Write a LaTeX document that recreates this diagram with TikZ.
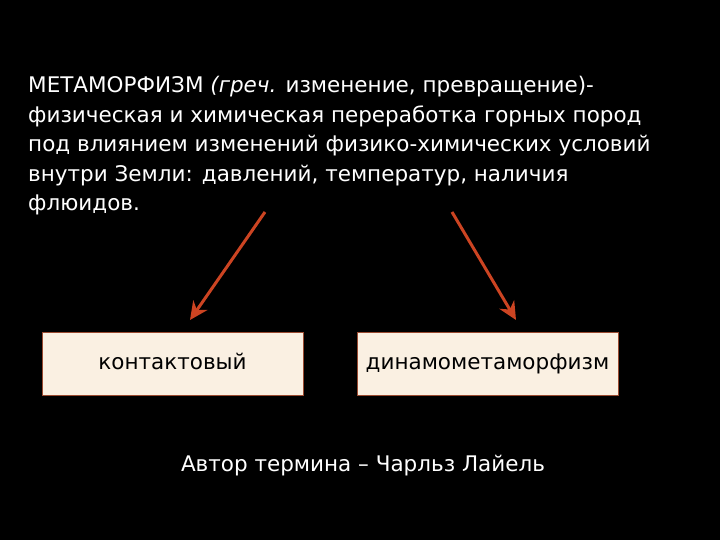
\documentclass[tikz,border=0pt]{standalone}
\usepackage{fontspec}
\setmainfont{DejaVu Sans}
\definecolor{boxfill}{HTML}{FAF0E2}
\definecolor{boxline}{HTML}{9A4A30}
\definecolor{arr}{HTML}{CC4422}
\usetikzlibrary{arrows.meta}
\tikzset{
  termbox/.style={draw=boxline, line width=0.8pt, fill=boxfill, minimum width=261pt, minimum height=63pt, inner sep=0pt, font=\fontsize{21.5}{24}\selectfont, text=black, text height=16pt, text depth=5pt},
  wtext/.style={text=white, font=\fontsize{21.5}{29.5}\selectfont, inner sep=0pt},
  link/.style={draw=arr, line width=3pt, -{Stealth[length=18pt,width=17pt]}}
}
\begin{document}
\begin{tikzpicture}[x=1pt,y=-1pt]
\fill[black] (0,0) rectangle (720,540);
\useasboundingbox (0,0) rectangle (720,540);
\node[wtext, anchor=north west, align=left] (def) at (28,76) {МЕТАМОРФИЗМ \textit{(греч.} изменение, превращение)-\\физическая и химическая переработка горных пород\\под влиянием изменений физико-химических условий\\внутри Земли: давлений, температур, наличия\\флюидов.};
\node[termbox] (k) at (172.5,363.5) {контактовый};
\node[termbox] (d) at (487.5,363.5) {динамометаморфизм};
\coordinate (s1) at (265,212);
\coordinate (s2) at (452,212);
\draw[link] (s1) -- (190,320) coordinate (e1);
\draw[link] (s2) -- (516,320) coordinate (e2);
\node[wtext] (auth) at (363,466) {Автор термина – Чарльз Лайель};
\end{tikzpicture}
\end{document}
